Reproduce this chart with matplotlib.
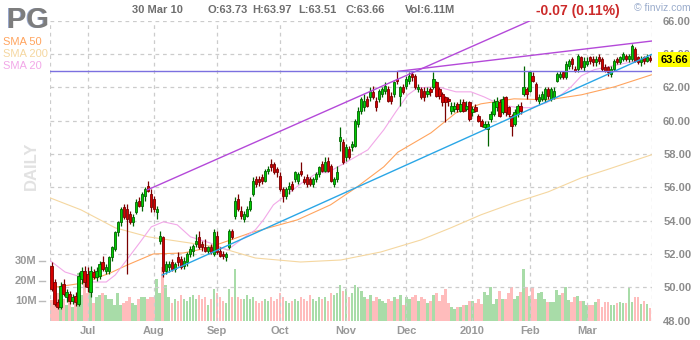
import matplotlib
matplotlib.use('Agg')
import matplotlib.pyplot as plt
import matplotlib.transforms as mtransforms
import numpy as np

plt.rcParams['font.family'] = ['Liberation Sans', 'DejaVu Sans']

# Daily OHLC + volume (millions), 15 Jun 2009 .. 30 Mar 2010
opens = [
    51.3, 50.3, 49.1, 48.8, 50.2, 49.4, 49.6, 49.2, 49.5, 49.0, 50.5, 51.0,  # Jun
    50.8, 49.7, 50.9, 50.6, 50.7, 51.5, 51.0, 51.0, 51.8, 52.3, 53.3, 53.9, 54.8, 54.7, 54.4, 53.9, 54.5, 55.2, 54.9, 55.5, 56.1, 55.6,  # Jul
    55.3, 54.5, 52.8, 53.0, 51.0, 51.2, 51.5, 51.1, 51.8, 51.7, 51.3, 51.5, 52.0, 52.2, 52.6, 53.0, 52.6, 52.4, 52.2, 52.4, 52.0,  # Aug
    53.1, 52.2, 52.0, 51.8, 52.4, 53.4, 54.3, 55.3, 54.6, 54.1, 54.3, 54.7, 55.6, 56.5, 56.5, 56.6, 56.4, 57.0, 57.4, 57.4, 57.1,  # Sep
    56.7, 55.9, 55.5, 55.9, 56.2, 56.5, 56.4, 57.0, 56.5, 56.6, 56.5, 56.2, 56.5, 56.8, 57.4, 57.0, 57.6, 57.3, 56.2, 56.5, 58.8, 58.7,  # Oct
    57.8, 58.3, 58.4, 58.5, 59.8, 60.6, 60.8, 61.3, 61.4, 61.7, 61.2, 61.3, 61.6, 61.8, 61.9, 61.5, 61.6, 62.5, 61.5, 62.0,  # Nov
    62.1, 62.4, 62.8, 62.7, 61.9, 61.9, 61.8, 61.6, 61.9, 62.0, 62.3, 61.9, 61.6, 61.4, 61.3, 60.6, 60.7, 61.0, 60.6, 61.1, 60.7, 61.1,  # Dec
    60.5, 60.8, 60.3, 60.0, 59.6, 59.5, 60.1, 60.4, 60.8, 61.1, 60.5, 61.4, 60.8, 60.3, 59.8, 60.4, 60.9, 61.6, 61.9,  # Jan
    61.8, 62.7, 62.2, 61.2, 61.3, 61.3, 61.9, 61.3, 61.4, 62.4, 62.6, 62.9, 62.6, 63.3, 63.7, 63.1, 63.1, 63.8, 63.2,  # Feb
    63.4, 63.8, 63.7, 63.5, 63.8, 63.7, 63.2, 63.2, 62.8, 63.1, 63.7, 63.5, 63.7, 63.9, 63.7, 63.7, 64.3, 63.8, 63.5, 63.8, 63.6, 63.73,  # Mar
]
highs = [
    51.5, 50.5, 49.3, 50.3, 50.5, 49.9, 49.8, 49.6, 49.7, 50.9, 51.2, 51.3,
    51.2, 51.3, 51.1, 51.2, 51.6, 51.9, 51.4, 51.9, 52.5, 53.4, 54.0, 54.8, 55.0, 55.0, 54.6, 54.4, 55.3, 55.4, 55.7, 56.0, 56.4, 55.9,
    55.5, 54.9, 53.4, 53.1, 51.6, 51.6, 51.7, 51.5, 52.1, 51.9, 51.8, 52.1, 52.5, 52.6, 53.2, 53.4, 52.8, 52.9, 52.5, 52.6, 53.5,
    53.4, 52.4, 52.2, 52.1, 53.5, 53.5, 55.4, 55.6, 54.9, 54.6, 54.9, 55.4, 56.6, 56.7, 56.7, 56.8, 57.1, 57.3, 57.7, 57.5, 57.2,
    56.9, 56.0, 56.0, 56.3, 56.4, 57.0, 56.9, 57.5, 56.7, 56.8, 56.6, 56.6, 56.9, 57.3, 57.6, 57.8, 57.8, 57.4, 56.6, 57.3, 59.6, 58.9,
    58.6, 58.5, 58.8, 60.1, 60.8, 61.4, 61.6, 61.5, 62.0, 62.1, 61.4, 61.9, 62.0, 62.3, 62.1, 61.7, 62.4, 63.0, 62.1, 62.2,
    62.7, 62.9, 63.0, 62.8, 62.2, 62.0, 62.0, 62.0, 62.0, 62.9, 62.4, 62.0, 61.7, 61.5, 61.4, 61.1, 61.1, 61.1, 61.3, 61.3, 61.2, 61.2,
    60.9, 61.0, 60.4, 60.1, 60.0, 60.0, 60.6, 61.3, 61.4, 61.3, 61.5, 61.5, 60.9, 60.4, 60.7, 61.0, 61.1, 63.3, 62.0,
    63.0, 62.9, 62.3, 61.6, 61.8, 62.0, 62.0, 62.0, 62.0, 62.9, 63.0, 63.0, 63.6, 63.7, 63.8, 63.3, 64.0, 63.9, 63.8,
    63.8, 63.9, 63.9, 63.9, 64.0, 63.8, 63.4, 63.3, 63.3, 63.7, 63.8, 63.9, 64.1, 64.0, 64.0, 64.6, 64.4, 63.9, 63.9, 63.9, 64.0, 63.97,
]
lows = [
    49.8, 48.9, 48.7, 48.7, 49.5, 49.1, 49.0, 49.0, 48.9, 48.9, 50.2, 50.0,
    49.7, 49.4, 50.5, 50.4, 50.5, 51.0, 50.8, 50.8, 51.6, 52.2, 53.1, 53.7, 54.1, 50.8, 53.8, 53.7, 54.4, 54.8, 54.6, 55.2, 55.7, 54.5,
    54.5, 54.1, 52.6, 50.6, 50.8, 50.9, 51.0, 50.9, 51.3, 51.1, 51.1, 51.3, 51.8, 51.9, 52.4, 52.3, 52.2, 52.1, 52.0, 52.0, 51.9,
    52.0, 51.8, 51.7, 51.6, 52.3, 52.9, 54.1, 54.6, 54.1, 53.9, 54.2, 54.6, 55.5, 56.0, 56.1, 56.2, 56.3, 56.8, 57.0, 56.8, 56.6,
    55.8, 55.1, 55.3, 55.6, 55.8, 56.3, 56.2, 56.7, 56.2, 56.0, 56.1, 56.0, 56.3, 56.6, 56.9, 56.9, 56.9, 56.3, 56.0, 56.3, 58.2, 57.4,
    57.6, 57.7, 58.2, 58.4, 59.6, 60.4, 60.6, 60.8, 61.2, 61.3, 60.6, 61.1, 61.4, 61.6, 61.1, 61.0, 61.4, 62.2, 60.9, 61.6,
    61.9, 62.2, 62.4, 61.9, 61.7, 61.3, 61.2, 61.4, 61.5, 61.9, 61.4, 61.3, 60.9, 59.9, 60.9, 60.4, 60.5, 60.5, 60.5, 60.5, 60.6, 60.0,
    60.3, 60.5, 59.9, 59.6, 59.5, 58.5, 59.9, 60.3, 60.6, 60.2, 60.4, 60.3, 60.2, 59.1, 59.7, 60.2, 60.4, 61.5, 61.3,
    61.7, 62.3, 61.2, 61.0, 61.2, 61.1, 61.3, 61.2, 61.3, 62.3, 62.5, 62.5, 62.5, 63.1, 63.1, 62.9, 62.9, 63.1, 63.0,
    63.3, 63.4, 63.3, 63.3, 63.4, 63.0, 62.9, 62.7, 62.6, 63.0, 63.4, 63.4, 63.6, 63.6, 63.5, 63.6, 63.5, 63.4, 63.3, 63.4, 63.5, 63.51,
]
closes = [
    49.9, 49.0, 48.8, 50.1, 49.6, 49.7, 49.2, 49.4, 49.1, 50.7, 51.0, 50.3,
    50.0, 51.0, 50.6, 51.0, 51.4, 51.1, 51.2, 51.8, 52.4, 53.3, 53.9, 54.7, 54.2, 54.1, 53.9, 54.2, 55.1, 54.9, 55.6, 55.9, 55.8, 54.8,
    54.7, 54.7, 53.1, 51.0, 51.4, 51.4, 51.1, 51.4, 51.5, 51.2, 51.6, 52.0, 52.3, 52.5, 52.8, 52.4, 52.4, 52.2, 52.4, 52.1, 53.3,
    52.1, 51.9, 51.9, 52.0, 53.4, 53.0, 55.2, 54.7, 54.3, 54.4, 54.7, 55.2, 56.4, 56.2, 56.3, 56.4, 57.0, 57.1, 57.2, 56.9, 56.9,
    55.9, 55.5, 55.9, 56.1, 55.9, 56.9, 56.8, 56.8, 56.3, 56.2, 56.2, 56.5, 56.8, 57.2, 57.0, 57.5, 57.0, 56.4, 56.5, 56.9, 59.0, 57.5,
    58.4, 57.8, 58.6, 60.0, 60.6, 61.3, 61.2, 60.9, 61.8, 61.4, 60.8, 61.8, 61.9, 62.1, 61.2, 61.2, 62.3, 62.4, 62.0, 61.7,
    62.5, 62.7, 62.6, 62.0, 62.0, 61.4, 61.4, 61.8, 61.7, 62.5, 61.5, 61.5, 61.1, 61.1, 61.2, 60.9, 60.9, 60.7, 61.0, 60.6, 60.9, 60.1,
    60.7, 60.6, 60.0, 59.7, 59.8, 59.8, 60.4, 61.1, 61.2, 60.3, 61.3, 60.5, 60.4, 59.7, 60.5, 60.9, 60.6, 62.0, 61.6,
    62.9, 62.4, 61.3, 61.4, 61.6, 61.9, 61.5, 61.9, 61.8, 62.8, 62.8, 62.6, 63.4, 63.6, 63.4, 63.0, 63.9, 63.2, 63.6,
    63.6, 63.6, 63.5, 63.7, 63.6, 63.1, 63.0, 62.9, 63.1, 63.6, 63.5, 63.8, 64.0, 63.7, 63.9, 64.5, 63.6, 63.5, 63.7, 63.6, 63.8, 63.66,
]
volumes = [
    10.5, 12, 14, 9, 11, 8, 10, 7, 9, 24, 13, 25,
    14, 16, 9, 12, 13, 14, 13, 11, 11, 8, 14, 8, 9, 10, 12, 9, 8, 11, 12, 12, 11, 12,
    12, 21, 14, 27, 18, 12, 9, 11, 10, 13, 11, 10, 12, 13, 11, 13, 11, 12, 8, 11, 16,
    14, 12, 10, 9, 16, 12, 26, 12, 11, 11, 13, 11, 12, 10, 9, 10, 11, 10, 12, 10, 11,
    14, 12, 10, 9, 10, 11, 10, 12, 11, 10, 13, 11, 10, 12, 11, 12, 10, 14, 13, 14, 18, 15,
    16, 12, 14, 18, 17, 15, 12, 11, 13, 10, 12, 11, 10, 9, 11, 10, 12, 11, 13, 8,
    12, 11, 12, 13, 10, 12, 11, 9, 10, 13, 14, 10, 13, 16, 9, 7, 6, 7, 7, 8, 8, 10,
    10, 9, 11, 8.3, 14.5, 13, 16.7, 8.3, 11, 15, 10.8, 10.8, 14, 17, 10.8, 12.5, 14.5, 26, 17,
    12.5, 17, 10.8, 14, 14.5, 10.8, 9.5, 9.5, 9.5, 15.5, 13, 14, 17, 10.3, 9.5, 11.7, 12.5, 10, 10,
    7.7, 7.7, 8, 9.5, 11, 6.7, 9.5, 9.5, 7.7, 7.7, 8.7, 9.5, 8.7, 8.7, 17, 9.2, 11.7, 11.7, 8.3, 10, 8.3, 6.11,
]

month_starts = [12, 34, 55, 76, 98, 118, 140, 159, 178]
month_labels = ['Jul', 'Aug', 'Sep', 'Oct', 'Nov', 'Dec', '2010', 'Feb', 'Mar']

# moving averages as drawn on the chart (day index, price)
sma20_x = [-0.5, 4.5, 9.8, 13.8, 18.2, 21.2, 25.5, 29.5, 33.2, 37.2, 41.8, 46.2, 52.8, 58.5, 63.8, 67.8, 70.5,
           73.8, 83.8, 88.5, 91.8, 99.5, 105.2, 110.5, 114.5, 118.5, 121.8, 128.5, 134.5, 139.5, 143.8, 149.5,
           155.2, 159.5, 164.5, 169.5, 172.8, 176.2, 180.5, 188.5, 199.5]
sma20_y = [51.6, 50.91, 50.61, 50.31, 50.31, 50.73, 51.75, 52.71, 53.62, 53.92, 53.74, 53.02, 52.65, 52.23, 52.95,
           53.44, 54.04, 54.94, 56.33, 56.87, 56.87, 57.65, 58.24, 59.44, 60.52, 61.54, 61.96, 62.02, 61.72, 61.72,
           61.42, 60.94, 60.77, 60.77, 61.06, 61.54, 62.02, 62.68, 63.05, 63.35, 63.77]
sma50_x = [-0.5, 10.5, 19.5, 25.2, 33.8, 43.8, 51.8, 59.5, 66.2, 81.8, 92.8, 101.2, 110.5, 115.2, 126.2, 134.5,
           142.8, 153.8, 165.2, 176.2, 187.2, 199.5]
sma50_y = [49.95, 50.25, 50.85, 51.33, 51.99, 52.05, 52.35, 52.83, 53.26, 54.04, 54.94, 55.96, 57.22, 58.1, 59.26,
           60.46, 61.0, 61.3, 61.24, 61.54, 62.02, 62.74]
sma200_x = [-0.5, 9.8, 21.2, 32.2, 43.8, 55.2, 67.8, 82.8, 96.2, 109.5, 122.8, 132.8, 142.8, 153.8, 165.2, 176.2,
            184.5, 199.5]
sma200_y = [55.36, 54.64, 53.56, 53.02, 52.71, 52.41, 51.75, 51.51, 51.63, 52.11, 52.83, 53.56, 54.34, 55.06, 55.72,
            56.56, 57.04, 57.94]

# trendlines (start/end day index, price)
support_x, support_y = [36.8, 199.7], [50.73, 63.97]
channel_x, channel_y = [31.8, 165.0], [55.83, 66.45]
upper_x, upper_y = [115.2, 199.7], [62.95, 64.77]
level_y = 62.98

o = np.array(opens)
h = np.array(highs)
l = np.array(lows)
c = np.array(closes)
days = np.arange(len(c))
up = c >= o

fig = plt.figure(figsize=(7, 3.4), dpi=100, facecolor='white')
rect = [50 / 700, 19.5 / 340, 602 / 700, 300 / 340]
ax_vol = fig.add_axes(rect)
ax = fig.add_axes(rect)
ax.patch.set_visible(False)

# Volume
ax_vol.bar(days, volumes, width=0.85, color=np.where(up, '#a8dca8', '#ffbcbc'), linewidth=0)
ax_vol.set_xlim(-0.5, 199.7)
ax_vol.set_ylim(0, 150)
ax_vol.axis('off')
vtrans = mtransforms.blended_transform_factory(ax_vol.transAxes, ax_vol.transData)
for v in [10, 20, 30]:
    ax_vol.text(-0.022, v, '%dM' % v, transform=vtrans, ha='right', va='center',
                fontsize=8, fontweight='bold', color='#999999')
    ax_vol.plot([-0.018, -0.008], [v, v], transform=vtrans, clip_on=False, color='#bbbbbb', lw=1)

# Grid
for p in range(50, 67, 2):
    ax.axhline(p, color='#cccccc', lw=0.9, ls=(0, (3, 3)), zorder=0)
for m in month_starts + [-0.45, 199.6]:
    ax.axvline(m, color='#cccccc', lw=0.9, ls=(0, (3, 3)), zorder=0)

# Moving averages
ax.plot(sma200_x, sma200_y, color='#f5d7a0', lw=0.8, zorder=2)
ax.plot(sma50_x, sma50_y, color='#ffa45e', lw=0.8, zorder=2)
ax.plot(sma20_x, sma20_y, color='#f2a8e8', lw=0.8, zorder=2)

# Candles
ax.vlines(days, l, h, colors=np.where(up, '#006400', '#7a0000'), lw=0.9, zorder=3)
ax.bar(days, np.maximum(np.abs(c - o), 0.05), bottom=np.minimum(o, c), width=0.75,
       color=np.where(up, '#00cc00', '#d40000'), edgecolor=np.where(up, '#006400', '#7a0000'),
       linewidth=0.6, zorder=4)

# Trendlines
ax.plot(support_x, support_y, color='#2aa6e6', lw=1.0, zorder=5)
ax.plot(channel_x, channel_y, color='#b449d9', lw=1.0, zorder=5)
ax.plot(upper_x, upper_y, color='#b449d9', lw=1.0, zorder=5)
ax.plot([-0.5, 199.7], [level_y, level_y], color='#7b70e0', lw=1.0, zorder=5)

ax.set_xlim(-0.5, 199.7)
ax.set_ylim(48, 66)
for s in ax.spines.values():
    s.set_visible(False)

ax.yaxis.tick_right()
ax.set_yticks(range(48, 67, 2))
ax.set_yticklabels(['%.2f' % v for v in range(48, 67, 2)])
ax.tick_params(axis='y', length=0, pad=8, labelsize=8, labelcolor='#8c8c8c')
ax.set_xticks(month_starts)
ax.set_xticklabels(month_labels)
ax.tick_params(axis='x', length=0, pad=4, labelsize=8, labelcolor='#999999')
for lab in ax.get_xticklabels() + ax.get_yticklabels():
    lab.set_fontweight('bold')

# last price box
ptrans = mtransforms.blended_transform_factory(ax.transAxes, ax.transData)
ax.text(1.0135, closes[-1], '%.2f' % closes[-1], transform=ptrans, ha='left', va='center',
        fontsize=8, fontweight='bold', color='black', zorder=10, clip_on=False,
        bbox=dict(boxstyle='square,pad=0.2', fc='#ffff00', ec='none'))

# Header
fig.text(5.5 / 700, 1 - 28.5 / 340, 'PG', fontsize=21, fontweight='bold', color='#9aa8cc', va='baseline')
fig.text(7 / 700, 1 - 28 / 340, 'PG', fontsize=21, fontweight='bold', color='#7d7d7d', va='baseline')
fig.text(3 / 700, 1 - 42 / 340, 'SMA 50', fontsize=8, color='#ffa45e', va='center')
fig.text(3 / 700, 1 - 54 / 340, 'SMA 200', fontsize=8, color='#f5d7a0', va='center')
fig.text(3 / 700, 1 - 66 / 340, 'SMA 20', fontsize=8, color='#f2a8e8', va='center')
fig.text(31 / 700, 1 - 166 / 340, 'DAILY', fontsize=12, fontweight='bold', color='#e2e2e2',
         rotation=90, ha='center', va='center')

fig.text(132 / 700, 1 - 10 / 340, '30 Mar 10', fontsize=8, fontweight='bold', color='#6e6e6e', va='center')
fig.text(207 / 700, 1 - 10 / 340, 'O:63.73', fontsize=8, fontweight='bold', color='#6e6e6e', va='center')
fig.text(252 / 700, 1 - 10 / 340, 'H:63.97', fontsize=8, fontweight='bold', color='#6e6e6e', va='center')
fig.text(298 / 700, 1 - 10 / 340, 'L:63.51', fontsize=8, fontweight='bold', color='#6e6e6e', va='center')
fig.text(345 / 700, 1 - 10 / 340, 'C:63.66', fontsize=8, fontweight='bold', color='#6e6e6e', va='center')
fig.text(405 / 700, 1 - 10 / 340, 'Vol:6.11M', fontsize=8, fontweight='bold', color='#6e6e6e', va='center')
fig.text(536 / 700, 1 - 11 / 340, '-0.07 (0.11%)', fontsize=10, fontweight='bold', color='#cc2a2a', va='center')
fig.text(634 / 700, 1 - 8 / 340, '\u00a9 finviz.com', fontsize=7.5, color='#9aaccc', va='center')

fig.savefig('out.png', dpi=100, facecolor='white')
